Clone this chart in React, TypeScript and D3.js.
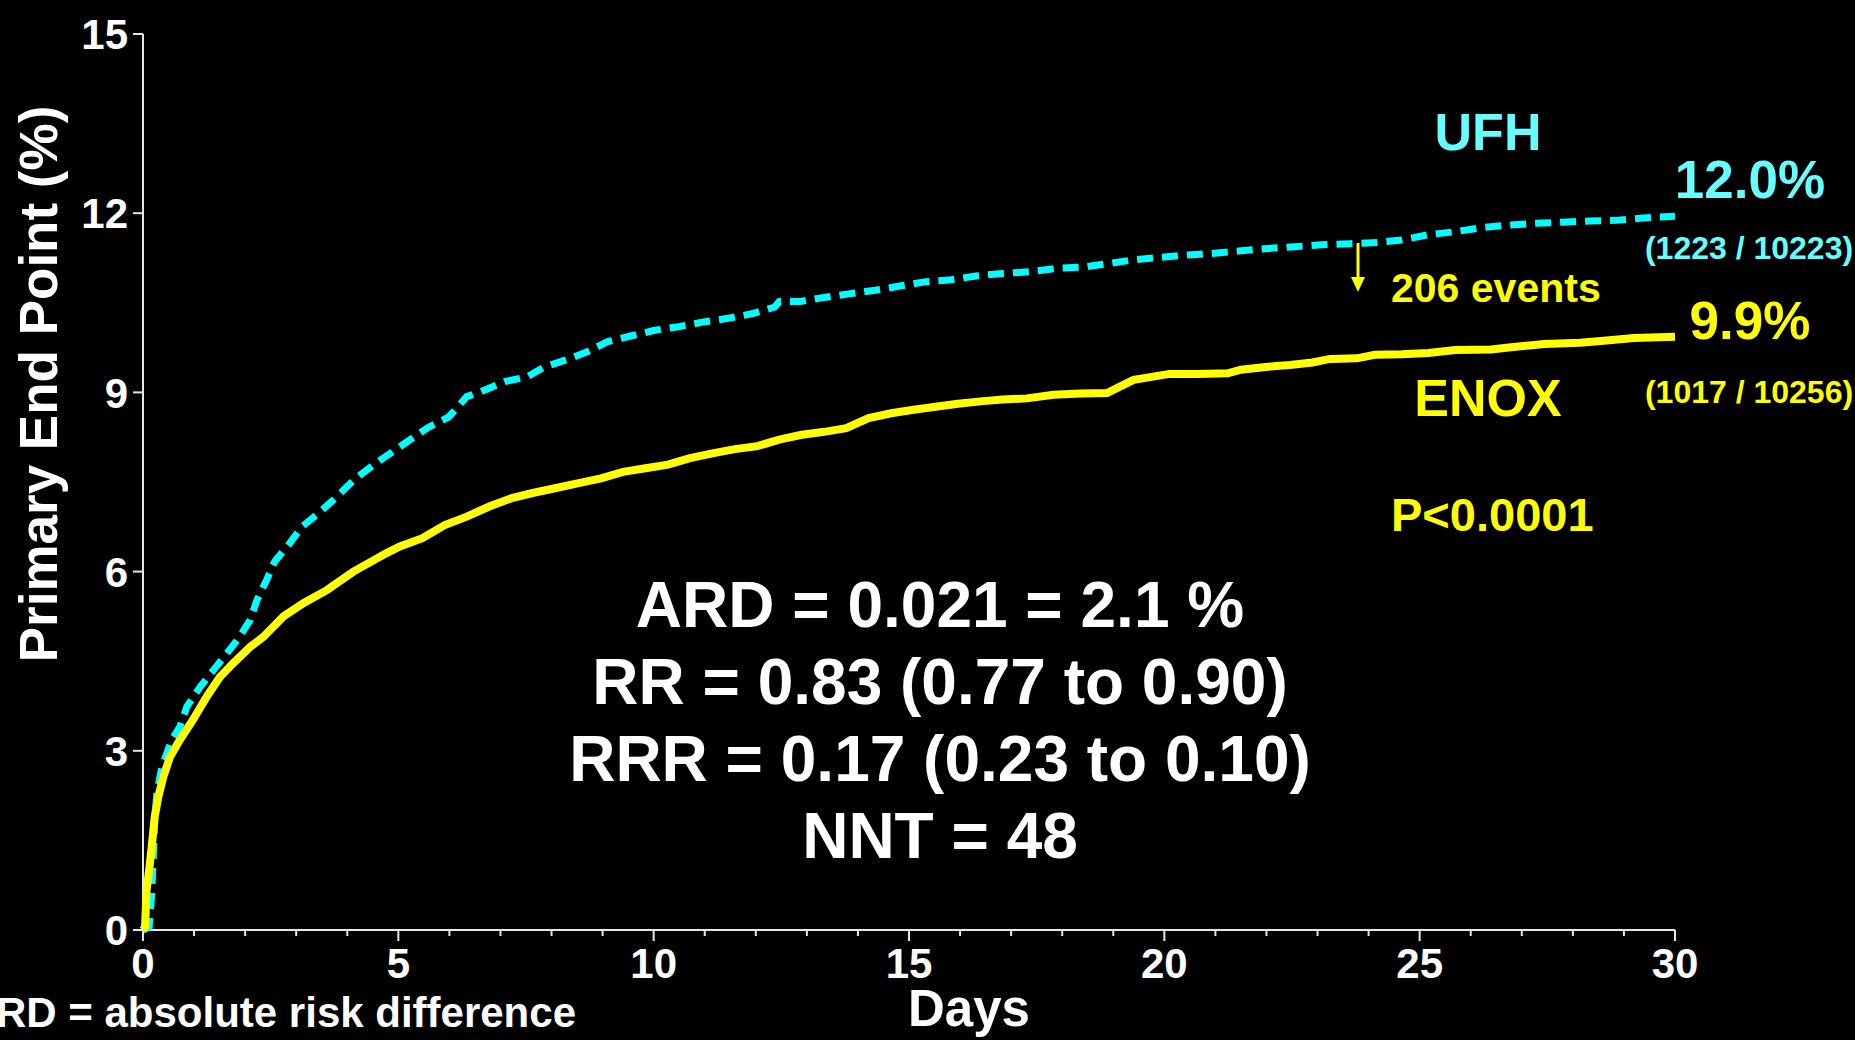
import * as d3 from 'd3'

const W = 1855
const H = 1040
const MARGIN = { top: 34, right: 180, bottom: 110, left: 143 }

// cumulative % with primary end point: [day, percent]
const ufhCurve: [number, number][] = [
  [0, 0], [0.12, 0.05], [0.17, 0.6], [0.2, 1.2], [0.23, 1.84], [0.27, 2.29], [0.37, 2.73],
  [0.56, 3.18], [0.72, 3.4], [0.86, 3.74], [1.12, 4.07], [1.38, 4.35], [1.64, 4.63],
  [1.87, 4.88], [2.1, 5.19], [2.23, 5.52], [2.42, 5.86], [2.58, 6.17], [2.85, 6.45],
  [3.11, 6.75], [3.4, 6.95], [3.69, 7.17], [4.15, 7.55], [4.6, 7.84], [5.03, 8.09],
  [5.56, 8.4], [5.99, 8.59], [6.34, 8.93], [6.61, 9.01], [7.08, 9.18], [7.52, 9.26],
  [7.87, 9.43], [8.31, 9.55], [8.7, 9.68], [9.1, 9.85], [9.53, 9.94], [10.02, 10.04],
  [10.49, 10.1], [10.98, 10.18], [11.46, 10.24], [11.94, 10.32], [12.37, 10.43],
  [12.46, 10.52], [12.86, 10.52], [13.34, 10.59], [13.82, 10.65], [14.34, 10.71],
  [14.82, 10.78], [15.3, 10.85], [15.78, 10.88], [16.31, 10.95], [16.83, 10.99],
  [17.36, 11.02], [17.92, 11.08], [18.44, 11.1], [18.92, 11.16], [19.4, 11.22],
  [19.93, 11.26], [20.45, 11.3], [20.98, 11.33], [21.5, 11.37], [22.03, 11.41],
  [22.55, 11.44], [23.08, 11.47], [23.64, 11.49], [24.17, 11.51], [24.65, 11.55],
  [25.17, 11.64], [25.7, 11.69], [26.22, 11.76], [26.74, 11.8], [27.27, 11.83],
  [27.79, 11.85], [28.32, 11.87], [28.84, 11.88], [29.37, 11.92], [30, 11.95],
]

const enoxCurve: [number, number][] = [
  [0, 0], [0.04, 0.05], [0.07, 0.67], [0.12, 1.0], [0.17, 1.39], [0.23, 1.9], [0.3, 2.23],
  [0.4, 2.57], [0.53, 2.9], [0.72, 3.18], [0.98, 3.52], [1.25, 3.91], [1.51, 4.24],
  [1.77, 4.47], [2.1, 4.74], [2.36, 4.91], [2.75, 5.25], [3.14, 5.47], [3.6, 5.69],
  [4.12, 6.0], [4.77, 6.31], [5.03, 6.42], [5.47, 6.56], [5.91, 6.78], [6.34, 6.92],
  [6.78, 7.09], [7.22, 7.23], [7.65, 7.32], [8.09, 7.4], [8.53, 7.48], [8.97, 7.56],
  [9.4, 7.67], [9.84, 7.73], [10.28, 7.79], [10.71, 7.9], [11.15, 7.98], [11.59, 8.05],
  [12.03, 8.1], [12.46, 8.21], [12.9, 8.29], [13.34, 8.34], [13.77, 8.4], [14.21, 8.57],
  [14.65, 8.65], [15.09, 8.71], [15.52, 8.76], [15.96, 8.81], [16.4, 8.85], [16.83, 8.88],
  [17.31, 8.9], [17.83, 8.96], [18.36, 8.98], [18.88, 8.99], [19.14, 9.1], [19.4, 9.21],
  [19.75, 9.26], [20.1, 9.31], [20.63, 9.31], [21.24, 9.32], [21.5, 9.38], [22.03, 9.43],
  [22.46, 9.46], [22.9, 9.5], [23.25, 9.56], [23.77, 9.57], [24.12, 9.63], [24.65, 9.64],
  [25.17, 9.66], [25.7, 9.71], [26.4, 9.72], [26.83, 9.76], [27.44, 9.81], [28.14, 9.83],
  [28.66, 9.87], [29.19, 9.91], [30, 9.93],
]

const yTicks = [0, 3, 6, 9, 12, 15]
const xTicks = [0, 5, 10, 15, 20, 25, 30]
const xMinorTicks = d3.range(0, 31)

const statLines = [
  'ARD = 0.021 = 2.1 %',
  'RR = 0.83 (0.77 to 0.90)',
  'RRR = 0.17 (0.23 to 0.10)',
  'NNT = 48',
]

const CYAN_LINE = '#00ffff'
const CYAN_TEXT = '#66ffff'
const YELLOW = '#ffff00'
const AXIS = '#e6e6e6'
const FONT = '"Liberation Sans", Arial, Helvetica, sans-serif'

export default function App() {
  const x = d3.scaleLinear().domain([0, 30]).range([MARGIN.left, W - MARGIN.right])
  const y = d3.scaleLinear().domain([0, 15]).range([H - MARGIN.bottom, MARGIN.top])

  const line = d3
    .line<[number, number]>()
    .x((d) => x(d[0]))
    .y((d) => y(d[1]))
    .curve(d3.curveLinear)

  const x0 = x(0)
  const y0 = y(0)

  return (
    <div style={{ position: 'fixed', left: 0, top: 0, width: W, height: H, background: '#000' }}>
      <svg width={W} height={H} style={{ display: 'block' }} fontFamily={FONT} fontWeight="bold">
        <rect width={W} height={H} fill="#000" />

        {/* axes */}
        <line x1={x0} x2={x0} y1={y(15)} y2={y0} stroke={AXIS} strokeWidth={2} />
        <line x1={x0} x2={x(30)} y1={y0} y2={y0} stroke={AXIS} strokeWidth={2} />
        {yTicks.map((t) => (
          <g key={`y${t}`}>
            <line x1={x0 - 10} x2={x0} y1={y(t)} y2={y(t)} stroke={AXIS} strokeWidth={2} />
            <text x={x0 - 15} y={y(t)} dy="0.36em" textAnchor="end" fontSize={42} fill="#fff">
              {t}
            </text>
          </g>
        ))}
        {xMinorTicks.map((t) => (
          <line
            key={`m${t}`}
            x1={x(t)}
            x2={x(t)}
            y1={y0}
            y2={y0 + (t % 5 === 0 ? 11 : 6)}
            stroke={AXIS}
            strokeWidth={2}
          />
        ))}
        {xTicks.map((t) => (
          <text key={`x${t}`} x={x(t)} y={978} textAnchor="middle" fontSize={42} fill="#fff">
            {t}
          </text>
        ))}

        <text x={969} y={1026} textAnchor="middle" fontSize={51} fill="#fff">
          Days
        </text>
        <text
          transform="translate(57,384) rotate(-90)"
          textAnchor="middle"
          fontSize={53}
          fill="#fff"
        >
          Primary End Point (%)
        </text>
        <text x={576} y={1027} textAnchor="end" fontSize={42} fill="#fff">
          ARD = absolute risk difference
        </text>

        {/* curves */}
        <path
          d={line(ufhCurve) ?? ''}
          fill="none"
          stroke={CYAN_LINE}
          strokeWidth={7}
          strokeDasharray="16 9"
        />
        <path d={line(enoxCurve) ?? ''} fill="none" stroke={YELLOW} strokeWidth={8} />

        {/* annotations */}
        <text x={1488} y={150} textAnchor="middle" fontSize={52} fill={CYAN_TEXT}>
          UFH
        </text>
        <text x={1750} y={198} textAnchor="middle" fontSize={53} fill={CYAN_TEXT}>
          12.0%
        </text>
        <text x={1749} y={259} textAnchor="middle" fontSize={32} fill={CYAN_TEXT}>
          (1223 / 10223)
        </text>
        <text x={1750} y={339} textAnchor="middle" fontSize={53} fill={YELLOW}>
          9.9%
        </text>
        <text x={1749} y={403} textAnchor="middle" fontSize={32} fill={YELLOW}>
          (1017 / 10256)
        </text>
        <text x={1488} y={416} textAnchor="middle" fontSize={52} fill={YELLOW}>
          ENOX
        </text>
        <text x={1391} y={302} fontSize={41} fill={YELLOW}>
          206 events
        </text>
        <text x={1391} y={531} fontSize={47} fill={YELLOW}>
          P&lt;0.0001
        </text>
        <line x1={1358} x2={1358} y1={243} y2={280} stroke={YELLOW} strokeWidth={3} />
        <polygon points="1351,277 1365,277 1358,292" fill={YELLOW} />

        {statLines.map((s, i) => (
          <text
            key={s}
            x={940}
            y={627 + i * 77}
            textAnchor="middle"
            fontSize={64}
            fill="#fff"
          >
            {s}
          </text>
        ))}
      </svg>
    </div>
  )
}
